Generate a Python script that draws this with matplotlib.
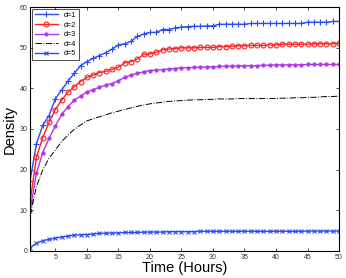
import matplotlib
matplotlib.use("Agg")
import matplotlib.pyplot as plt
import numpy as np

plt.rcParams['font.family'] = ['Liberation Sans', 'DejaVu Sans']

hours = np.arange(1, 51)

d1 = [17.3, 26.3, 30.9, 33.3, 37.4, 39.6, 41.8, 43.7, 45.6, 46.6,
      47.4, 48.1, 48.8, 49.7, 50.7, 51.0, 51.6, 52.8, 53.4, 53.8,
      53.8, 54.5, 54.5, 54.9, 55.1, 55.2, 55.3, 55.3, 55.4, 55.4,
      55.8, 55.8, 55.8, 55.8, 55.8, 56.0, 56.0, 56.0, 56.0, 56.0,
      56.0, 56.0, 56.0, 56.0, 56.3, 56.3, 56.3, 56.3, 56.5, 56.5]
d2 = [12.0, 23.0, 27.9, 31.6, 34.8, 37.1, 39.1, 40.4, 41.7, 42.7,
      43.3, 43.9, 44.2, 44.7, 45.2, 46.3, 46.6, 47.2, 48.4, 48.5,
      48.9, 49.5, 49.7, 49.8, 50.0, 50.0, 50.0, 50.1, 50.1, 50.1,
      50.3, 50.3, 50.4, 50.5, 50.5, 50.6, 50.6, 50.6, 50.7, 50.7,
      50.9, 50.9, 50.9, 50.9, 50.9, 51.0, 51.0, 51.0, 51.0, 51.1]
d3 = [9.9, 19.1, 24.2, 27.7, 30.7, 33.6, 35.5, 37.1, 38.1, 39.1,
      39.7, 40.3, 40.8, 41.2, 41.9, 42.7, 43.3, 43.7, 44.1, 44.4,
      44.5, 44.6, 44.8, 44.9, 45.1, 45.1, 45.2, 45.2, 45.3, 45.3,
      45.4, 45.5, 45.5, 45.5, 45.6, 45.6, 45.6, 45.7, 45.7, 45.8,
      45.8, 45.8, 45.8, 45.8, 45.9, 45.9, 45.9, 45.9, 45.9, 45.9]
d4 = [8.8, 15.8, 19.9, 22.8, 24.8, 26.9, 28.5, 29.9, 31.0, 32.0,
      32.5, 33.0, 33.5, 34.0, 34.4, 34.8, 35.2, 35.6, 35.9, 36.2,
      36.4, 36.6, 36.8, 36.9, 37.0, 37.1, 37.2, 37.2, 37.3, 37.3,
      37.4, 37.4, 37.4, 37.5, 37.5, 37.5, 37.5, 37.5, 37.5, 37.5,
      37.6, 37.6, 37.7, 37.7, 37.8, 37.8, 37.9, 38.0, 38.0, 38.1]
d5 = [0.8, 1.8, 2.5, 2.8, 3.1, 3.4, 3.6, 3.9, 3.9, 4.0,
      4.1, 4.3, 4.3, 4.4, 4.4, 4.5, 4.5, 4.5, 4.6, 4.6,
      4.6, 4.6, 4.7, 4.7, 4.7, 4.7, 4.7, 4.8, 4.8, 4.8,
      4.8, 4.8, 4.8, 4.8, 4.8, 4.8, 4.8, 4.8, 4.8, 4.8,
      4.8, 4.8, 4.8, 4.8, 4.85, 4.85, 4.85, 4.85, 4.85, 4.85]

fig = plt.figure(figsize=(3.46, 2.78), dpi=100)
ax = fig.add_axes([0.087, 0.098, 0.893, 0.876])

blue = "#2a4cf5"
ax.plot(hours, d1, color=blue, marker="+", ms=4, mew=0.8, lw=1.0, label="d=1")
ax.plot(hours, d2, color="#ff2020", marker="o", ms=3.5, mfc="none", mew=0.8, lw=1.0, label="d=2")
ax.plot(hours, d3, color="#b038e8", marker="o", ms=2.5, mew=0.5, lw=1.0, label="d=3")
ax.plot(hours, d4, color="black", ls="-.", lw=0.7, label="d=4")
ax.plot(hours, d5, color=blue, marker="x", ms=3, mew=0.8, lw=1.0, label="d=5")

ax.set_xlim(1, 50)
ax.set_ylim(0, 60)
ax.set_xticks([5, 10, 15, 20, 25, 30, 35, 40, 45, 50])
ax.set_yticks([0, 10, 20, 30, 40, 50, 60])
ax.tick_params(direction="in", top=True, right=True, labelsize=5, length=2, width=0.5,
               pad=2, labelcolor="#333333")
for s in ax.spines.values():
    s.set_linewidth(0.8)

ax.set_xlabel("Time (Hours)", fontsize=10.5, labelpad=0)
ax.set_ylabel("Density", fontsize=10.5, labelpad=2)

leg = ax.legend(loc="upper left", fontsize=5.2, frameon=True, fancybox=False,
                edgecolor="black", handlelength=3.2, borderpad=0.35,
                labelspacing=0.35, borderaxespad=0.3)
leg.get_frame().set_linewidth(0.6)

fig.savefig("out.png", dpi=100)
